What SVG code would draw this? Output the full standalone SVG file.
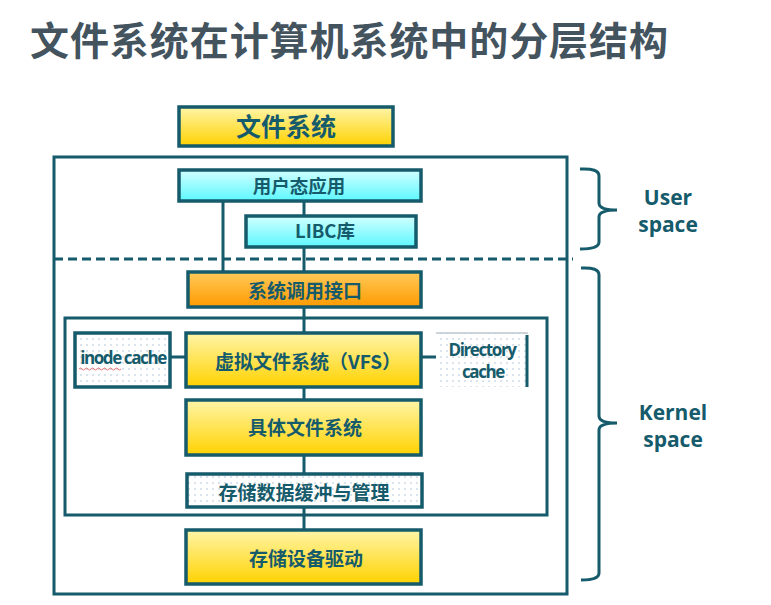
<svg xmlns="http://www.w3.org/2000/svg" width="771" height="605" viewBox="0 0 771 605">
<defs>
<linearGradient id="gy" x1="0" y1="0" x2="0" y2="1"><stop offset="0" stop-color="#fff5a8"/><stop offset="1" stop-color="#ffd200"/></linearGradient>
<linearGradient id="gc" x1="0" y1="0" x2="0" y2="1"><stop offset="0" stop-color="#d2ffff"/><stop offset="1" stop-color="#5cf8ff"/></linearGradient>
<linearGradient id="go" x1="0" y1="0" x2="0" y2="1"><stop offset="0" stop-color="#ffca5a"/><stop offset="1" stop-color="#ff9a00"/></linearGradient>
<pattern id="dots" width="6" height="6" patternUnits="userSpaceOnUse"><rect width="6" height="6" fill="#fff"/><circle cx="3" cy="3" r="0.7" fill="#9db4cc"/></pattern>
<style>
.b{stroke:#155b6b;stroke-width:3.5}
.ln{stroke:#155b6b;stroke-width:3;fill:none}
.t{font-family:"Noto Sans CJK SC","Open Sans",sans-serif;font-weight:bold;fill:#155b6b;text-anchor:middle}
.e{font-family:"Open Sans","Noto Sans CJK SC",sans-serif;font-weight:bold;fill:#155b6b;text-anchor:middle}
</style>
</defs>
<text x="30" y="55" font-family="Noto Sans CJK SC, sans-serif" font-weight="bold" font-size="39" fill="#44545f" textLength="638">文件系统在计算机系统中的分层结构</text>

<g id="connectors">
<rect x="54" y="157" width="513" height="437" class="ln" stroke-width="3.5"/>
<line x1="54" y1="259" x2="573" y2="259" class="ln" stroke-dasharray="9 5"/>
<rect x="65" y="318" width="482" height="197" class="ln"/>
<line x1="223" y1="201" x2="223" y2="273" class="ln"/>
<line x1="304" y1="201" x2="304" y2="215" class="ln"/>
<line x1="304" y1="247" x2="304" y2="272" class="ln"/>
<line x1="304" y1="307" x2="304" y2="332" class="ln"/>
<line x1="170" y1="357" x2="185" y2="357" class="ln"/>
<line x1="421" y1="357" x2="436" y2="357" class="ln"/>
<line x1="304" y1="387" x2="304" y2="399" class="ln"/>
<line x1="304" y1="455" x2="304" y2="473" class="ln"/>
<line x1="304" y1="507" x2="304" y2="529" class="ln"/>
<path d="M580,169 Q599,168 599,176 L599,203 Q599,210 617,210 Q599,210 599,217 L599,242 Q599,249 580,249" class="ln"/>
<path d="M581,268 Q599,267 599,275 L599,416 Q599,423 617,423 Q599,423 599,430 L599,573 Q599,580 581,580" class="ln"/>
</g>

<g id="n-fs"><rect x="179" y="107" width="214" height="39" fill="url(#gy)" class="b"/><text x="286" y="136" class="t" font-size="25">文件系统</text></g>
<g id="n-app"><rect x="179" y="170" width="242" height="31" fill="url(#gc)" class="b"/><text x="299" y="193" class="t" font-size="18.5">用户态应用</text></g>
<g id="n-libc"><rect x="246" y="216" width="170" height="31" fill="url(#gc)" class="b"/><text x="325" y="238" class="t" font-size="18.5">LIBC库</text></g>
<g id="n-syscall"><rect x="188" y="272" width="233" height="35" fill="url(#go)" class="b"/><text x="305" y="298" class="t" font-size="19">系统调用接口</text></g>
<g id="n-inode"><rect x="75" y="333" width="95" height="54" fill="url(#dots)" class="b"/><text x="123" y="364" class="e" font-size="17" letter-spacing="-1.4">inode cache</text><path d="M79,369 q1.5,-2 3,0 t3,0 t3,0 t3,0 t3,0 t3,0 t3,0 t3,0 t3,0 t3,0 t3,0 t3,0 t3,0 t3,0" stroke="#e05050" stroke-width="0.8" fill="none"/></g>
<g id="n-vfs"><rect x="186" y="333" width="235" height="54" fill="url(#gy)" class="b"/><text x="308" y="369" class="t" font-size="19">虚拟文件系统（VFS）</text></g>
<g id="n-dir"><rect x="436" y="333" width="92" height="54" fill="url(#dots)"/><line x1="436" y1="333" x2="528" y2="333" stroke="#bcc7cf" stroke-width="1.5"/><line x1="527" y1="335" x2="527" y2="387" stroke="#155b6b" stroke-width="3"/><text x="482" y="356" class="e" font-size="17" letter-spacing="-1.4">Directory</text><text x="483" y="378" class="e" font-size="17" letter-spacing="-1.4">cache</text></g>
<g id="n-concrete"><rect x="186" y="400" width="235" height="55" fill="url(#gy)" class="b"/><text x="305" y="435" class="t" font-size="19">具体文件系统</text></g>
<g id="n-buffer"><rect x="187" y="474" width="235" height="33" fill="url(#dots)" class="b"/><text x="304" y="500" class="t" font-size="19">存储数据缓冲与管理</text></g>
<g id="n-driver"><rect x="186" y="530" width="235" height="54" fill="url(#gy)" class="b"/><text x="306" y="566" class="t" font-size="19">存储设备驱动</text></g>
<g id="l-user"><text x="668" y="205" class="e" font-size="21">User</text><text x="668" y="232" class="e" font-size="21">space</text></g>
<g id="l-kernel"><text x="673" y="420" class="e" font-size="21">Kernel</text><text x="673" y="447" class="e" font-size="21">space</text></g>
</svg>
